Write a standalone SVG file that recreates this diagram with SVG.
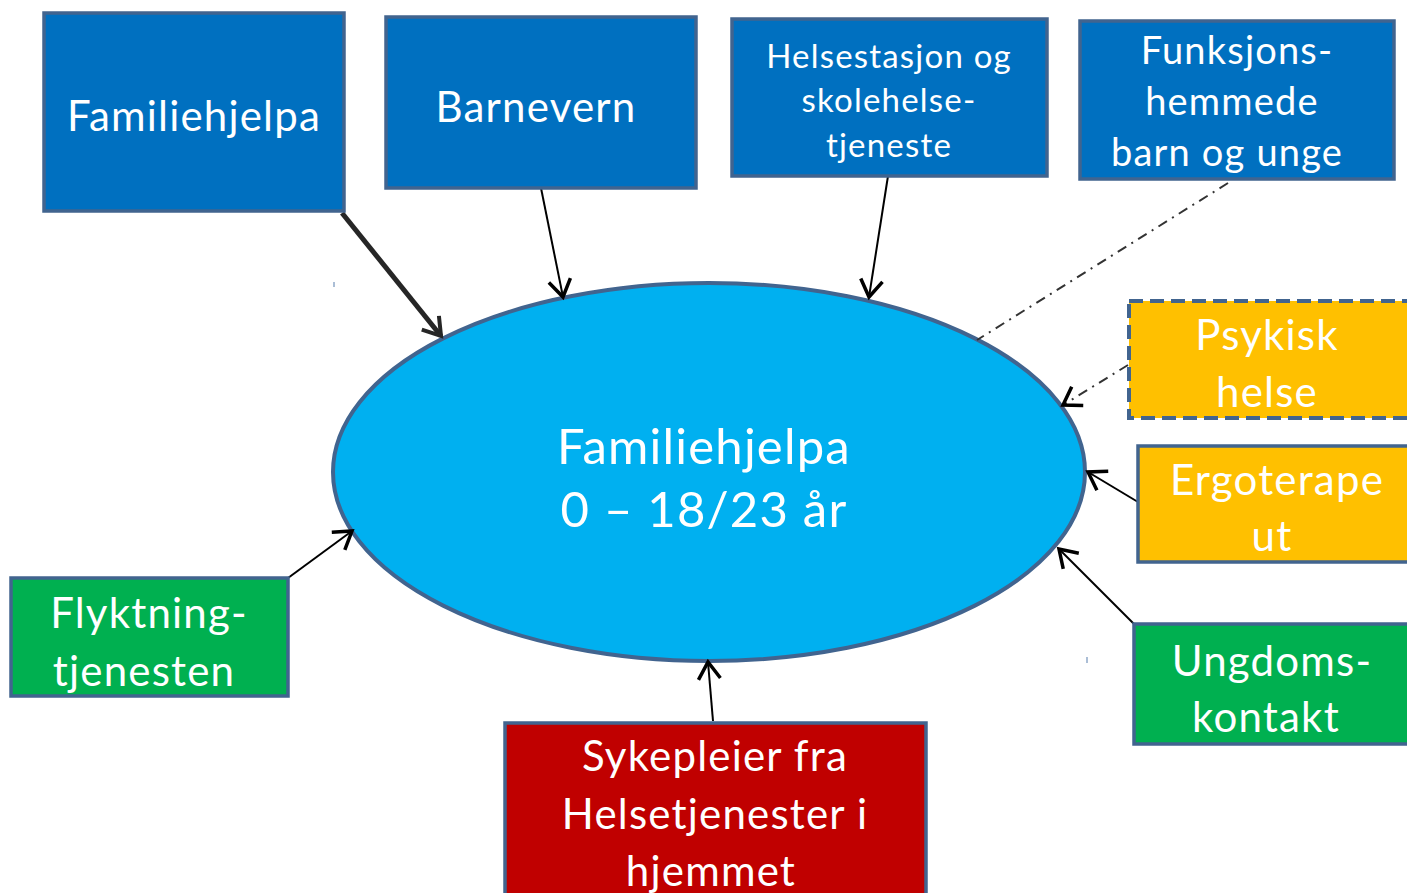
<svg xmlns="http://www.w3.org/2000/svg" width="1407" height="893" viewBox="0 0 1407 893">
<style>
.box{stroke:#41648F;stroke-width:3.5}
.blue{fill:#0070C0}
.yel{fill:#FFC000}
.grn{fill:#00B050}
.red{fill:#C00000}
.t{fill:#FFFFFF;font-family:Lato,"Open Sans",sans-serif;text-anchor:middle;letter-spacing:1.2px}
.c{stroke:#000;stroke-width:2;fill:none;marker-end:url(#ah)}
.dd{stroke:#333;stroke-width:2;fill:none;stroke-dasharray:10 6 2 6}
</style>
<defs>
<marker id="ah" viewBox="0 0 30 30" refX="22" refY="15" markerWidth="30" markerHeight="30" markerUnits="userSpaceOnUse" orient="auto">
<path d="M5,4 L22,15 L5,26" fill="none" stroke="#000" stroke-width="3.5"/>
</marker>
<marker id="ah2" viewBox="0 0 30 30" refX="22" refY="15" markerWidth="30" markerHeight="30" markerUnits="userSpaceOnUse" orient="auto">
<path d="M5,4 L22,15 L5,26" fill="none" stroke="#262626" stroke-width="4"/>
</marker>
</defs>
<rect width="1407" height="893" fill="#FFFFFF"/>
<g id="center">
<ellipse cx="709" cy="472" rx="376" ry="189" fill="#00B0F0" stroke="#41648F" stroke-width="4"/>
<text class="t" x="704" y="464" font-size="49">Familiehjelpa</text>
<text class="t" x="704" y="527" font-size="49">0 – 18/23 år</text>
</g>
<g id="connectors">
<line x1="342" y1="213" x2="441" y2="336" stroke="#262626" stroke-width="5" marker-end="url(#ah2)"/>
<line class="c" x1="541" y1="188" x2="563" y2="297"/>
<line class="c" x1="888" y1="176" x2="869" y2="297"/>
<line class="dd" x1="1228" y1="183" x2="977" y2="340"/>
<line class="dd" x1="1128" y1="365" x2="1063" y2="405" marker-end="url(#ah)"/>
<line class="c" x1="1138" y1="502" x2="1088" y2="472"/>
<line class="c" x1="1134" y1="624" x2="1059" y2="549"/>
<line class="c" x1="288" y1="578" x2="352" y2="531"/>
<line class="c" x1="713" y1="721" x2="708" y2="662"/>
</g>
<g id="n-familiehjelpa">
<rect class="box blue" x="44" y="13" width="300" height="198"/>
<text class="t" x="194" y="131" font-size="42">Familiehjelpa</text>
</g>
<g id="n-barnevern">
<rect class="box blue" x="386" y="17" width="310" height="171"/>
<text class="t" x="536" y="122" font-size="42">Barnevern</text>
</g>
<g id="n-helsestasjon">
<rect class="box blue" x="732" y="19" width="315" height="157"/>
<text class="t" x="889" y="68" font-size="33">Helsestasjon og</text>
<text class="t" x="889" y="112" font-size="33">skolehelse-</text>
<text class="t" x="889" y="157" font-size="33">tjeneste</text>
</g>
<g id="n-funksjons">
<rect class="box blue" x="1080" y="21" width="314" height="158"/>
<text class="t" x="1237" y="64" font-size="38">Funksjons-</text>
<text class="t" x="1232" y="115" font-size="38">hemmede</text>
<text class="t" x="1227" y="166" font-size="38">barn og unge</text>
</g>
<g id="n-psykisk">
<rect class="yel" x="1129" y="301" width="280" height="117" stroke="#41648F" stroke-width="4" stroke-dasharray="14 7"/>
<text class="t" x="1267" y="350" font-size="42">Psykisk</text>
<text class="t" x="1267" y="407" font-size="42">helse</text>
</g>
<g id="n-ergo">
<rect class="box yel" x="1138" y="446" width="275" height="116"/>
<text class="t" x="1277" y="495" font-size="42">Ergoterape</text>
<text class="t" x="1272" y="551" font-size="42">ut</text>
</g>
<g id="n-ungdom">
<rect class="box grn" x="1134" y="624" width="279" height="120"/>
<text class="t" x="1272" y="676" font-size="42">Ungdoms-</text>
<text class="t" x="1266" y="732" font-size="42">kontakt</text>
</g>
<g id="n-flyktning">
<rect class="box grn" x="11" y="578" width="277" height="118"/>
<text class="t" x="149" y="628" font-size="42">Flyktning-</text>
<text class="t" x="144" y="686" font-size="42">tjenesten</text>
</g>
<g id="n-sykepleier">
<rect class="box red" x="505" y="723" width="421" height="180"/>
<text class="t" x="715" y="771" font-size="42">Sykepleier fra</text>
<text class="t" x="715" y="829" font-size="42">Helsetjenester i</text>
<text class="t" x="711" y="886" font-size="42">hjemmet</text>
</g>
<line x1="334" y1="282" x2="334" y2="287" stroke="#8FA8C8" stroke-width="1.5"/>
<line x1="1087" y1="657" x2="1087" y2="663" stroke="#8FA8C8" stroke-width="1.5"/>
</svg>
